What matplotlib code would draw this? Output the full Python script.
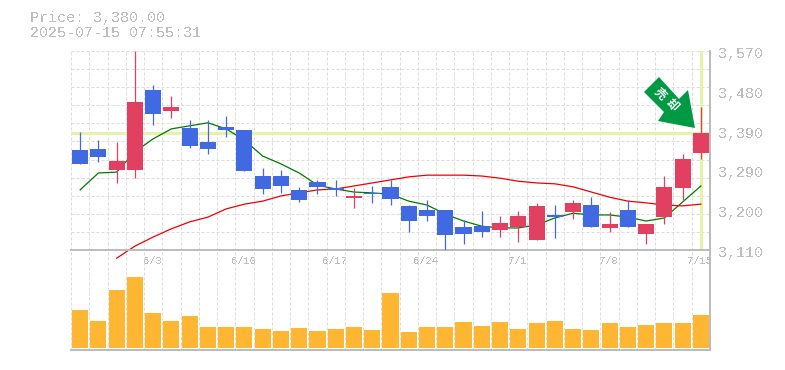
import matplotlib
matplotlib.use("Agg")
import matplotlib.pyplot as plt
from matplotlib.patches import Polygon, Rectangle

W, H = 785, 370
X0, X1 = 71, 710
TOP, MID, BOT = 51, 250, 350

opens = [3341, 3343, 3295, 3295, 3480, 3431, 3392, 3360, 3394, 3387, 3281, 3281,
         3249, 3267, 3253, 3230, 3242, 3256, 3212, 3202, 3202, 3163, 3165, 3156,
         3163, 3133, 3191, 3198, 3214, 3161, 3202, 3147, 3186, 3253, 3334]
highs = [3383, 3364, 3360, 3570, 3491, 3466, 3410, 3410, 3420, 3387, 3300, 3295,
         3256, 3272, 3272, 3253, 3258, 3272, 3214, 3226, 3202, 3179, 3200, 3189,
         3200, 3219, 3214, 3226, 3232, 3198, 3226, 3170, 3281, 3332, 3441]
lows = [3309, 3313, 3265, 3276, 3399, 3415, 3346, 3332, 3371, 3293, 3239, 3242,
        3221, 3239, 3235, 3207, 3219, 3214, 3152, 3177, 3108, 3124, 3140, 3140,
        3128, 3133, 3138, 3182, 3163, 3152, 3163, 3124, 3170, 3226, 3320]
closes = [3309, 3325, 3316, 3452, 3424, 3441, 3350, 3343, 3387, 3293, 3251, 3258,
          3226, 3256, 3249, 3235, 3239, 3228, 3177, 3189, 3145, 3147, 3152, 3172,
          3189, 3212, 3186, 3219, 3163, 3170, 3163, 3170, 3256, 3320, 3380]
ma_short = [3249, 3288, 3290, 3337, 3367, 3390, 3397, 3404, 3390, 3364, 3327, 3309,
            3288, 3260, 3251, 3244, 3242, 3239, 3223, 3214, 3193, 3177, 3165, 3161,
            3161, 3168, 3184, 3195, 3191, 3191, 3186, 3177, 3184, 3221, 3258]
ma_long = [None, None, 3091, 3119, 3140, 3159, 3175, 3186, 3205, 3216, 3223, 3235,
           3242, 3249, 3251, 3258, 3265, 3272, 3279, 3283, 3283, 3283, 3281, 3276,
           3269, 3265, 3263, 3256, 3244, 3232, 3223, 3219, 3214, 3212, 3216]
volumes = [38, 27, 58, 71, 35, 27, 32, 21, 21, 21, 19, 17, 20, 17, 19, 21, 18, 55,
           16, 21, 21, 26, 22, 26, 19, 25, 27, 19, 18, 25, 21, 23, 25, 25, 33]

price_ticks = [3570, 3478, 3386, 3294, 3202, 3110]
price_labels = ["3,570", "3,480", "3,390", "3,290", "3,200", "3,110"]
date_idx = [4, 9, 14, 19, 24, 29, 34]
date_labels = ["6/3", "6/10", "6/17", "6/24", "7/1", "7/8", "7/15"]
current_price = 3380

plt.rcParams["font.family"] = ["Liberation Mono", "Noto Sans CJK JP", "DejaVu Sans"]
plt.rcParams["text.antialiased"] = False

GRID = "#dcdcdc"
AXIS = "#bbbbbb"
TEXT = "#bdbdbd"
BLUE = "#4169e1"
RED = "#e24060"
LIME = "#e4f3a8"
ORANGE = "#ffb733"
GREEN = "#009944"

fig = plt.figure(figsize=(W / 100, H / 100), dpi=100, facecolor="white")


def panel(y_top, y_bot):
    return fig.add_axes([X0 / W, 1 - y_bot / H, (X1 - X0) / W, (y_bot - y_top) / H])


ax = panel(TOP, MID)
ax.set_xlim(-0.5, 34.5)
ax.set_ylim(3110, 3570)
vol = panel(MID, BOT)
vol.set_xlim(-0.5, 34.5)
vol.set_ylim(-2, 98)

for a in (ax, vol):
    a.patch.set_alpha(0)
    a.set_xticks([])
    a.set_yticks([])
    for side in ("left", "top"):
        a.spines[side].set_visible(False)
    for side in ("right", "bottom"):
        a.spines[side].set_color(AXIS)
        a.spines[side].set_linewidth(1.4)
    for i in range(35):
        a.axvline(i - 0.5, color=GRID, lw=0.72, ls=(0, (3, 2)), zorder=0)

# horizontal grid, 11 steps over the price panel
for i in range(11):
    ax.axhline(3570 - i * 460 / 11, color=GRID, lw=0.72, ls=(0, (3, 2)), zorder=0)

ax.axhline(current_price, color=LIME, lw=2.2, zorder=1)
ax.axvline(34, ymin=0.01, color=LIME, lw=2.2, zorder=1)

xs = list(range(35))
ax.plot(xs, ma_short, color="#007a00", lw=0.9, zorder=2)
ax.plot(xs[2:], ma_long[2:], color="#f00000", lw=0.9, zorder=2, clip_on=False)

for i in xs:
    color = RED if closes[i] > opens[i] else BLUE
    ax.vlines(i, lows[i], highs[i], color=color, lw=0.9, zorder=3)
    low, high = min(opens[i], closes[i]), max(opens[i], closes[i])
    ax.add_patch(Rectangle((i - 0.44, low), 0.88, high - low, color=color, lw=0, zorder=4))

vol.bar(xs, volumes, width=0.88, color=ORANGE, zorder=3)

for tick, label in zip(price_ticks, price_labels):
    ax.annotate(label, xy=(1, tick), xycoords=("axes fraction", "data"), xytext=(8, -3),
                textcoords="offset pixels", fontsize=10.8, color=TEXT, va="center", ha="left")
for i, label in zip(date_idx, date_labels):
    ax.annotate(label, xy=(i, 0), xycoords=("data", "axes fraction"), xytext=(-1, -11),
                textcoords="offset pixels", fontsize=7.6, color=TEXT, va="center", ha="center",
                annotation_clip=False)

fig.text(30 / W, 1 - 18 / H, "Price: 3,380.00", fontsize=10.8, color=TEXT, va="center")
fig.text(30 / W, 1 - 33 / H, "2025-07-15 07:55:31", fontsize=10.8, color=TEXT, va="center")

# sell arrow, figure pixel coords
arrow_px = [(659, 77), (644, 92), (664, 112), (658, 121), (695, 128), (688, 90), (679, 99)]
fig.add_artist(Polygon([(x / W, 1 - y / H) for x, y in arrow_px], closed=True, facecolor=GREEN,
                       edgecolor="none", transform=fig.transFigure, zorder=6))
for ch, (px, py) in zip("売却", [(660, 94), (672, 105)]):
    fig.text(px / W, 1 - py / H, ch, fontsize=8.5, color="white", rotation=-45, ha="center",
             va="center", rotation_mode="anchor", fontweight="bold", zorder=7, antialiased=True)

fig.savefig("out.png", dpi=100, facecolor="white")
